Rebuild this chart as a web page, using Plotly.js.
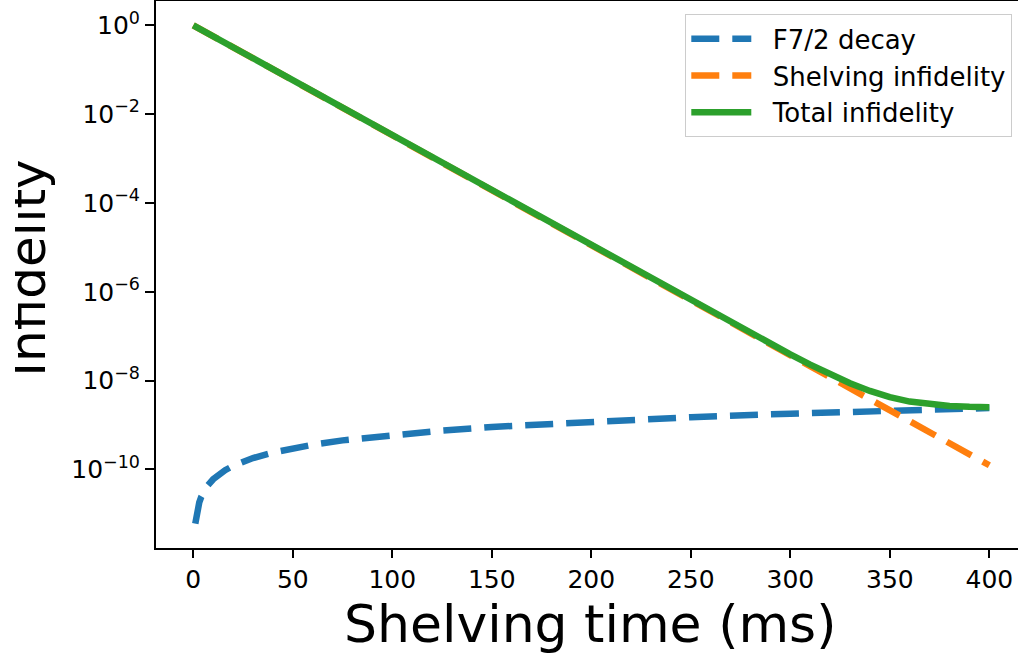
<!DOCTYPE html>
<html>
<head>
<meta charset="utf-8">
<script src="https://cdn.plot.ly/plotly-3.0.1.min.js"></script>
<style>
  html, body { margin: 0; padding: 0; background: #ffffff; }
  #wrap { position: relative; width: 1018px; height: 658px; overflow: hidden; }
  #chart { width: 1018px; height: 658px; }
  #clip { position: absolute; left: 0; top: 0; width: 15px; height: 658px; background: #ffffff; z-index: 10; }
</style>
</head>
<body>
<div id="wrap">
  <div id="chart"></div>
  <div id="clip"></div>
</div>
<script>
// ---- data ----
const decayTime = [1, 1.5, 2, 3, 4, 5, 7, 10, 13, 16, 20, 25, 30, 40, 50, 60, 75, 100, 125, 150, 200, 250, 300, 350, 400];
const decayInfidelity = [6e-12, 9e-12, 1.2e-11, 1.8e-11, 2.4e-11, 3e-11, 4.2e-11, 6e-11, 7.8e-11, 9.6e-11, 1.2e-10, 1.5e-10, 1.8e-10, 2.4e-10, 3e-10, 3.6e-10, 4.5e-10, 6e-10, 7.5e-10, 9e-10, 1.2e-9, 1.5e-9, 1.8e-9, 2.1e-9, 2.4e-9];

const shelvTime = [0, 25, 50, 75, 100, 125, 150, 175, 200, 225, 250, 275, 300, 310, 320, 330, 340, 350, 360, 370, 380, 390, 400];
const shelvInfidelity = [1, 0.24, 0.0577, 0.01387, 3.33e-3, 8.0e-4, 1.92e-4, 4.62e-5, 1.11e-5, 2.67e-6, 6.4e-7, 1.54e-7, 3.7e-8, 2.09e-8, 1.19e-8, 6.7e-9, 3.79e-9, 2.14e-9, 1.21e-9, 6.84e-10, 3.87e-10, 2.19e-10, 1.24e-10];

const totalTime = [0, 25, 50, 75, 100, 125, 150, 175, 200, 225, 250, 275, 300, 310, 320, 330, 340, 350, 360, 370, 380, 390, 400];
const totalInfidelity = [1, 0.24, 0.0577, 0.01387, 3.33e-3, 8.0e-4, 1.92e-4, 4.62e-5, 1.11e-5, 2.67e-6, 6.4e-7, 1.56e-7, 3.88e-8, 2.28e-8, 1.38e-8, 8.68e-9, 5.83e-9, 4.24e-9, 3.37e-9, 2.9e-9, 2.67e-9, 2.56e-9, 2.52e-9];

const seriesNames = ["F7/2 decay", "Shelving infidelity", "Total infidelity"];
const xTickVals = [0, 50, 100, 150, 200, 250, 300, 350, 400];
const yTickVals = [1, 1e-2, 1e-4, 1e-6, 1e-8, 1e-10];
const yTickText = ["10<sup>0</sup>", "10<sup>\u22122</sup>", "10<sup>\u22124</sup>", "10<sup>\u22126</sup>", "10<sup>\u22128</sup>", "10<sup>\u221210</sup>"];
const xTitle = "Shelving time (ms)";
const yTitle = "Infidelity";

// ---- layout geometry (pixels) ----
const W = 1018, H = 658;
const L = 156, R = 1018, T = 1, B = 548;
const px2x = p => (p - L) / (R - L);
const px2y = p => (B - p) / (B - T);
const FONT = "DejaVu Sans, Verdana, sans-serif";
const GAP = "\u00a0\u00a0"; // spacing between legend sample and label

const traces = [
  { x: decayTime, y: decayInfidelity, name: GAP + seriesNames[0], mode: "lines",
    line: { color: "#1f77b4", width: 6.5, dash: "28px,13px" } },
  { x: shelvTime, y: shelvInfidelity, name: GAP + seriesNames[1], mode: "lines",
    line: { color: "#ff7f0e", width: 6.5, dash: "28px,13px" } },
  { x: totalTime, y: totalInfidelity, name: GAP + seriesNames[2], mode: "lines",
    line: { color: "#2ca02c", width: 6.5 } }
];

const layout = {
  width: W, height: H,
  margin: { l: L, r: W - R, t: T, b: H - B, pad: 0 },
  paper_bgcolor: "#ffffff", plot_bgcolor: "#ffffff",
  font: { family: FONT, color: "#000000", size: 25 },
  showlegend: true,
  xaxis: {
    range: [-18.74, 414.4],
    tickvals: xTickVals,
    ticks: "outside", ticklen: 8, tickwidth: 2, tickcolor: "#000000",
    showline: true, linecolor: "#000000", linewidth: 2, mirror: true,
    showgrid: false, zeroline: false,
    tickfont: { family: FONT, size: 25, color: "#000000" }
  },
  yaxis: {
    type: "log",
    range: [-11.77, 0.547],
    tickvals: yTickVals, ticktext: yTickText,
    ticks: "outside", ticklen: 9, tickwidth: 2, tickcolor: "#000000",
    showline: true, linecolor: "#000000", linewidth: 2, mirror: false,
    showgrid: false, zeroline: false,
    tickfont: { family: FONT, size: 25, color: "#000000" }
  },
  legend: {
    x: px2x(1012), xanchor: "right",
    y: px2y(14), yanchor: "top",
    bgcolor: "rgba(255,255,255,0.8)",
    bordercolor: "#cccccc", borderwidth: 1.3,
    itemwidth: 60,
    font: { family: FONT, size: 26, color: "#000000" }
  },
  annotations: [
    { text: xTitle, xref: "paper", yref: "paper",
      x: px2x(590), y: px2y(623.5), xanchor: "center", yanchor: "middle",
      showarrow: false, font: { family: FONT, size: 52, color: "#000000" } },
    { text: yTitle, xref: "paper", yref: "paper", textangle: -90,
      x: px2x(27.7), y: px2y(268), xanchor: "center", yanchor: "middle",
      showarrow: false, font: { family: FONT, size: 50, color: "#000000" } }
  ]
};

Plotly.newPlot("chart", traces, layout, { staticPlot: true, displayModeBar: false });
</script>
</body>
</html>
